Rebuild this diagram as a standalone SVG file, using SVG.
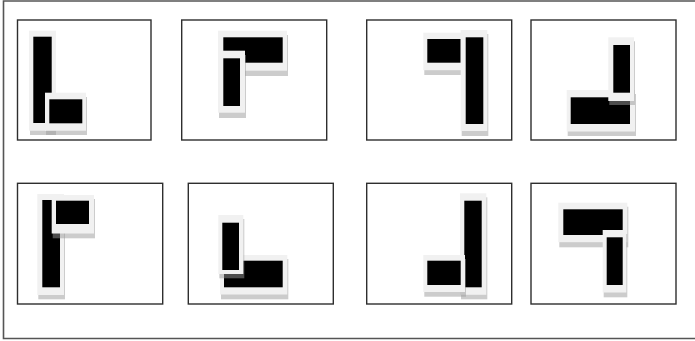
<svg xmlns="http://www.w3.org/2000/svg" width="695" height="341" viewBox="0 0 695 341">
<style>
.frame{fill:#fff;stroke:#2e2e2e;stroke-width:1.4}
.outer{fill:none;stroke:#555;stroke-width:1.6}
.sh{fill:#9a9a9a;fill-opacity:0.5}
.halo{fill:#f1f1f1}
.blk{fill:#000}
</style>
<rect x="0" y="0" width="695" height="341" fill="#fff"/>
<path class="outer" d="M695,1 H3.5 V338.5 H695"/>
<g id="panel1">
<rect class="frame" x="17.5" y="20" width="133.5" height="120"/>
<rect class="sh" x="30" y="35" width="26" height="100"/>
<rect class="halo" x="29" y="30.7" width="27" height="100"/>
<rect class="blk" x="33.3" y="36.7" width="18.4" height="86.3"/>
<rect class="sh" x="46" y="97" width="41" height="38"/>
<rect class="halo" x="45" y="92.7" width="41" height="38"/>
<rect class="blk" x="49.3" y="99.3" width="33" height="24"/>
</g>
<g id="panel2">
<rect class="frame" x="181.7" y="20" width="145" height="120"/>
<rect class="sh" x="219" y="35" width="69" height="41"/>
<rect class="halo" x="218" y="30.7" width="69" height="40"/>
<rect class="blk" x="223.3" y="37.3" width="59.4" height="25.4"/>
<rect class="sh" x="219" y="55" width="27" height="63"/>
<rect class="halo" x="218" y="50.7" width="27" height="62"/>
<rect class="blk" x="223.3" y="58.3" width="16.7" height="47.7"/>
</g>
<g id="panel3">
<rect class="frame" x="366.7" y="20" width="145" height="120"/>
<rect class="sh" x="424.3" y="37" width="41.7" height="38"/>
<rect class="halo" x="423.3" y="32.7" width="41.7" height="37.5"/>
<rect class="blk" x="427.3" y="39" width="33.4" height="23.7"/>
<rect class="sh" x="461.7" y="34" width="26.6" height="102"/>
<rect class="halo" x="460.7" y="30" width="26.6" height="101"/>
<rect class="blk" x="465.7" y="37.3" width="17.6" height="86.7"/>
</g>
<g id="panel4">
<rect class="frame" x="531" y="20" width="145" height="120"/>
<rect class="sh" x="567.7" y="94" width="68.3" height="42"/>
<rect class="halo" x="566.7" y="90" width="68.3" height="41.5"/>
<rect class="blk" x="570.7" y="97.3" width="59.3" height="26.7"/>
<rect class="sh" x="609.3" y="41.3" width="25.7" height="63.7"/>
<rect class="halo" x="608.3" y="37.3" width="25.7" height="63.7"/>
<rect class="blk" x="613.3" y="45" width="16.7" height="47.7"/>
</g>
<g id="panel5">
<rect class="frame" x="17.5" y="183.3" width="145.2" height="120.7"/>
<rect class="sh" x="38.3" y="198" width="26.7" height="101.3"/>
<rect class="halo" x="37.3" y="194" width="26.7" height="101"/>
<rect class="blk" x="42.3" y="200" width="17.7" height="87.3"/>
<rect class="sh" x="52.7" y="199" width="42.3" height="39.3"/>
<rect class="halo" x="51.7" y="195" width="42.3" height="38.5"/>
<rect class="blk" x="56" y="200.7" width="33" height="23.3"/>
</g>
<g id="panel6">
<rect class="frame" x="188.3" y="183.3" width="145" height="120.7"/>
<rect class="sh" x="221" y="259" width="67.3" height="40.3"/>
<rect class="halo" x="220" y="255" width="67.3" height="39.5"/>
<rect class="blk" x="224" y="260.7" width="58.7" height="26.6"/>
<rect class="sh" x="219.3" y="219" width="25" height="59.3"/>
<rect class="halo" x="218.3" y="215" width="25" height="59"/>
<rect class="blk" x="222.3" y="222.7" width="16.7" height="47.3"/>
</g>
<g id="panel7">
<rect class="frame" x="366.7" y="183.3" width="145" height="120.7"/>
<rect class="sh" x="461" y="197.3" width="26.3" height="102"/>
<rect class="halo" x="460" y="193.3" width="26.3" height="101.5"/>
<rect class="blk" x="464.3" y="200.7" width="17.4" height="86.6"/>
<rect class="sh" x="424.3" y="259" width="41.7" height="37.7"/>
<rect class="halo" x="423.3" y="255" width="41.7" height="37"/>
<rect class="blk" x="427.3" y="260.7" width="33.4" height="24.3"/>
</g>
<g id="panel8">
<rect class="frame" x="531" y="183.3" width="145" height="120.7"/>
<rect class="sh" x="559.3" y="206.7" width="69" height="40.6"/>
<rect class="halo" x="558.3" y="202.7" width="69" height="39.5"/>
<rect class="blk" x="563.3" y="209.3" width="59.4" height="25.7"/>
<rect class="sh" x="603.7" y="234" width="23.6" height="63.3"/>
<rect class="halo" x="602.7" y="230" width="23.6" height="62.5"/>
<rect class="blk" x="606.7" y="237.3" width="16" height="47.7"/>
</g>
</svg>
